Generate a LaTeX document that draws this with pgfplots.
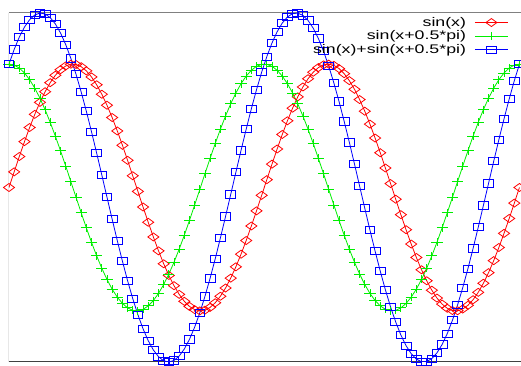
\documentclass[border=0pt]{standalone}
\usepackage{fontspec}
\setmainfont{Liberation Sans}
\newfontfamily\legfont[FakeStretch=1.42]{Liberation Sans}
\usepackage{graphicx}
\usepackage{pgfplots}
\pgfplotsset{compat=1.18}
\usepackage{pgfplotstable}

\pgfplotstableread{
x s c t
0.000 0.0000 1.0000 1.0000
0.127 0.1266 0.9920 1.1186
0.254 0.2511 0.9679 1.2190
0.381 0.3717 0.9284 1.3001
0.508 0.4862 0.8738 1.3600
0.635 0.5929 0.8053 1.3982
0.762 0.6901 0.7237 1.4138
0.889 0.7761 0.6305 1.4066
1.015 0.8497 0.5272 1.3769
1.142 0.9096 0.4154 1.3250
1.269 0.9549 0.2970 1.2519
1.396 0.9848 0.1736 1.1584
1.523 0.9989 0.0476 1.0465
1.650 0.9969 -0.0793 0.9176
1.777 0.9788 -0.2048 0.7740
1.904 0.9450 -0.3271 0.6179
2.031 0.8960 -0.4441 0.4519
2.158 0.8325 -0.5539 0.2786
2.285 0.7557 -0.6549 0.1008
2.412 0.6667 -0.7452 -0.0785
2.539 0.5671 -0.8237 -0.2566
2.666 0.4582 -0.8888 -0.4306
2.793 0.3420 -0.9397 -0.5977
2.919 0.2203 -0.9755 -0.7552
3.046 0.0951 -0.9955 -0.9004
3.173 -0.0317 -0.9995 -1.0312
3.300 -0.1580 -0.9874 -1.1454
3.427 -0.2817 -0.9595 -1.2412
3.554 -0.4009 -0.9161 -1.3170
3.681 -0.5136 -0.8580 -1.3716
3.808 -0.6182 -0.7861 -1.4043
3.935 -0.7127 -0.7015 -1.4142
4.062 -0.7957 -0.6056 -1.4013
4.189 -0.8660 -0.5000 -1.3660
4.316 -0.9224 -0.3863 -1.3087
4.443 -0.9638 -0.2665 -1.2303
4.570 -0.9899 -0.1423 -1.1322
4.697 -0.9999 -0.0159 -1.0158
4.823 -0.9938 0.1108 -0.8830
4.950 -0.9718 0.2357 -0.7361
5.077 -0.9342 0.3569 -0.5773
5.204 -0.8814 0.4723 -0.4091
5.331 -0.8146 0.5801 -0.2345
5.458 -0.7346 0.6785 -0.0561
5.585 -0.6428 0.7660 0.1232
5.712 -0.5406 0.8413 0.3007
5.839 -0.4298 0.9029 0.4731
5.966 -0.3120 0.9501 0.6381
6.093 -0.1893 0.9819 0.7926
6.220 -0.0634 0.9980 0.9346
6.347 0.0634 0.9980 1.0614
6.474 0.1893 0.9819 1.1712
6.601 0.3120 0.9501 1.2621
6.727 0.4298 0.9029 1.3327
6.854 0.5406 0.8413 1.3819
6.981 0.6428 0.7660 1.4088
7.108 0.7346 0.6785 1.4131
7.235 0.8146 0.5801 1.3947
7.362 0.8814 0.4723 1.3537
7.489 0.9342 0.3569 1.2911
7.616 0.9718 0.2357 1.2075
7.743 0.9938 0.1108 1.1046
7.870 0.9999 -0.0159 0.9840
7.997 0.9899 -0.1423 0.8476
8.124 0.9638 -0.2665 0.6973
8.251 0.9224 -0.3863 0.5361
8.378 0.8660 -0.5000 0.3660
8.505 0.7957 -0.6056 0.1901
8.631 0.7127 -0.7015 0.0112
8.758 0.6182 -0.7861 -0.1679
8.885 0.5136 -0.8580 -0.3444
9.012 0.4009 -0.9161 -0.5152
9.139 0.2817 -0.9595 -0.6778
9.266 0.1580 -0.9874 -0.8294
9.393 0.0317 -0.9995 -0.9678
9.520 -0.0951 -0.9955 -1.0906
9.647 -0.2203 -0.9755 -1.1958
9.774 -0.3420 -0.9397 -1.2817
9.901 -0.4582 -0.8888 -1.3470
10.028 -0.5671 -0.8237 -1.3908
10.155 -0.6667 -0.7452 -1.4119
10.282 -0.7557 -0.6549 -1.4106
10.409 -0.8325 -0.5539 -1.3864
10.535 -0.8960 -0.4441 -1.3401
10.662 -0.9450 -0.3271 -1.2721
10.789 -0.9788 -0.2048 -1.1836
10.916 -0.9969 -0.0793 -1.0762
11.043 -0.9989 0.0476 -0.9513
11.170 -0.9848 0.1736 -0.8112
11.297 -0.9549 0.2970 -0.6579
11.424 -0.9096 0.4154 -0.4942
11.551 -0.8497 0.5272 -0.3225
11.678 -0.7761 0.6305 -0.1456
11.805 -0.6901 0.7237 0.0336
11.932 -0.5929 0.8053 0.2124
12.059 -0.4862 0.8738 0.3876
12.186 -0.3717 0.9284 0.5567
12.313 -0.2511 0.9679 0.7168
12.439 -0.1266 0.9920 0.8654
12.566 0.0000 1.0000 1.0000
}\data

\definecolor{gpred}{RGB}{255,0,0}
\definecolor{gpgreen}{RGB}{0,238,0}
\definecolor{gpblue}{RGB}{0,0,255}

\begin{document}
\begin{tikzpicture}
\useasboundingbox (0,0) rectangle (521pt,366pt);
\begin{axis}[
  at={(9pt,4pt)}, anchor=south west,
  scale only axis, width=512pt, height=349pt,
  xmin=0, xmax=12.604, ymin=-1.4142, ymax=1.4142,
  ticks=none,
  axis line style={draw=none},
  legend plot pos=right,
  legend cell align=right,
  legend style={draw=none, fill=none, at={(axis description cs:0.9756,0.9926)}, anchor=north east,
    inner sep=0pt, row sep=0pt, /tikz/column sep=7pt,
    nodes={inner sep=1.5pt}, font=\legfont\fontsize{12.5}{15}\selectfont},
  legend image code/.code={\draw[mark repeat=2,mark phase=2,#1] plot coordinates {(0pt,0pt) (16.5pt,0pt) (33pt,0pt)};},
]
\draw[black!50, line width=1pt] (rel axis cs:0,1) -- (rel axis cs:1,1);
\draw[black!75, line width=1pt] (rel axis cs:0,1) -- (rel axis cs:0,0) -- (rel axis cs:1,0);
\addplot[gpred, line width=0.8pt, mark=diamond, mark size=4pt, mark options={solid, xscale=1.85}] table[x=x, y=s] {\data};
\addlegendentry{sin(x)}
\addplot[gpgreen, line width=0.8pt, mark=+, mark size=4pt, mark options={solid, xscale=1.4}] table[x=x, y=c] {\data};
\addlegendentry{sin(x+0.5*pi)}
\addplot[gpblue, line width=0.8pt, mark=square, mark size=3.6pt, mark options={solid, xscale=1.35}] table[x=x, y=t] {\data};
\addlegendentry{sin(x)+sin(x+0.5*pi)}
\end{axis}
\end{tikzpicture}
\end{document}
